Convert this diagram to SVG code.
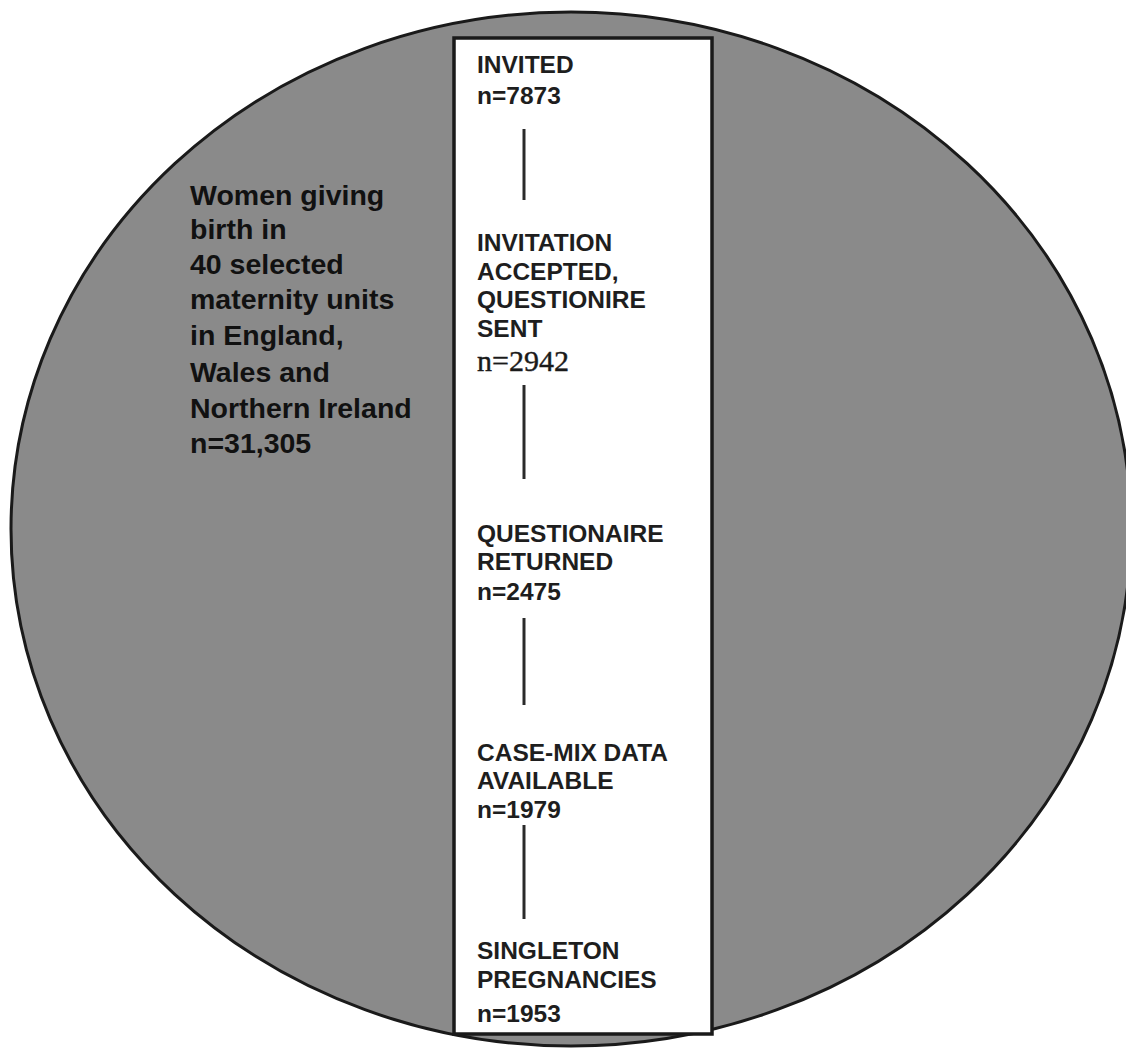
<svg xmlns="http://www.w3.org/2000/svg" width="1126" height="1048" viewBox="0 0 1126 1048">
<style>
.bg{fill:#ffffff}
.disc{fill:#8a8a8a;stroke:#1a1a1a;stroke-width:3}
.box{fill:#ffffff;stroke:#1a1a1a;stroke-width:3.5}
.t{font-family:"Liberation Sans",Arial,sans-serif;font-size:24.5px;font-weight:bold;fill:#1e1e1e}
.s{font-family:"Liberation Serif","Times New Roman",serif;font-size:30px;fill:#1a1a1a;stroke:#1a1a1a;stroke-width:0.4}
.l{font-family:"Liberation Sans",Arial,sans-serif;font-size:28.5px;font-weight:bold;fill:#111}
.c{stroke:#2a2a2a;stroke-width:3;fill:none}
</style>
<rect class="bg" x="0" y="0" width="1126" height="1048"/>
<g id="population">
<ellipse class="disc" cx="571" cy="529" rx="560" ry="517"/>
<text class="l" x="190" y="205">Women giving</text>
<text class="l" x="190" y="239">birth in</text>
<text class="l" x="190" y="274">40 selected</text>
<text class="l" x="190" y="309">maternity units</text>
<text class="l" x="190" y="345">in England,</text>
<text class="l" x="190" y="382">Wales and</text>
<text class="l" x="190" y="418">Northern Ireland</text>
<text class="l" x="190" y="453">n=31,305</text>
</g>
<g id="flow-box">
<rect class="box" x="454" y="38" width="258" height="996"/>
</g>
<g id="invited">
<text class="t" x="477" y="73">INVITED</text>
<text class="t" x="477" y="104">n=7873</text>
</g>
<g id="accepted">
<text class="t" x="477" y="251">INVITATION</text>
<text class="t" x="477" y="280">ACCEPTED,</text>
<text class="t" x="477" y="308">QUESTIONIRE</text>
<text class="t" x="477" y="337">SENT</text>
<text class="s" x="477" y="371">n=2942</text>
</g>
<g id="returned">
<text class="t" x="477" y="542">QUESTIONAIRE</text>
<text class="t" x="477" y="570">RETURNED</text>
<text class="t" x="477" y="600">n=2475</text>
</g>
<g id="casemix">
<text class="t" x="477" y="761">CASE-MIX DATA</text>
<text class="t" x="477" y="789">AVAILABLE</text>
<text class="t" x="477" y="818">n=1979</text>
</g>
<g id="singleton">
<text class="t" x="477" y="959">SINGLETON</text>
<text class="t" x="477" y="988">PREGNANCIES</text>
<text class="t" x="477" y="1022">n=1953</text>
</g>
<g id="connectors">
<line class="c" x1="524" y1="129" x2="524" y2="200"/>
<line class="c" x1="524" y1="385" x2="524" y2="479"/>
<line class="c" x1="524" y1="618" x2="524" y2="705"/>
<line class="c" x1="524" y1="825" x2="524" y2="919"/>
</g>
</svg>
